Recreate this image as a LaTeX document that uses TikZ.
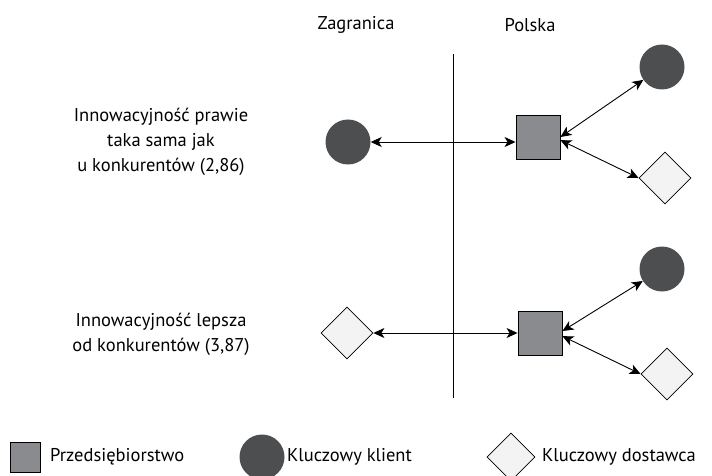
\documentclass[tikz,border=0pt]{standalone}
\usepackage{fontspec}
\setmainfont{PT Sans}
\usetikzlibrary{arrows.meta,shapes.geometric}

\definecolor{firma}{HTML}{8A8B8F}
\definecolor{klient}{HTML}{4D4E50}
\definecolor{dostawca}{HTML}{F2F3F2}

\begin{document}
\begin{tikzpicture}[x=1pt,y=-1pt,font=\fontsize{18.5}{25}\selectfont,
    firm/.style={draw,fill=firma,line width=.9pt,minimum size=44pt,inner sep=0pt},
    client/.style={circle,fill=klient,minimum size=45pt,inner sep=0pt},
    supplier/.style={diamond,draw,fill=dostawca,line width=.8pt,minimum size=52pt,inner sep=0pt},
    link/.style={{Stealth[length=11pt,width=10pt,inset=3pt]}-{Stealth[length=11pt,width=10pt,inset=3pt]},line width=.9pt}]
  \useasboundingbox (0,0) rectangle (712,476);
  % headings and border line
  \node (zagr) at (356,25) {Zagranica};
  \node (pol) at (530,25) {Polska};
  \coordinate (top) at (453,54);
  \coordinate (bot) at (453,398);
  \draw[line width=.8pt] (top) -- (bot);
  % first case
  \node[align=center] (txt1) at (161,142) {Innowacyjność prawie\\taka sama jak\\u konkurentów (2,86)};
  \node[client] (k0) at (348,142) {};
  \node[firm] (f1) at (538,137) {};
  \node[client] (k1) at (662,67) {};
  \node[supplier] (d1) at (665,178) {};
  \draw[link] (k0) -- (k0 -| f1.west);
  \draw[link] (f1.0) -- (k1);
  \draw[link] (f1.-8) -- (d1.west);
  % second case
  \node[align=center] (txt2) at (161,334) {Innowacyjność lepsza\\od konkurentów (3,87)};
  \node[supplier] (d0) at (347,333) {};
  \node[firm] (f2) at (540,333) {};
  \node[client] (k2) at (662,269) {};
  \node[supplier] (d2) at (667,374) {};
  \draw[link] (d0.east) -- (f2.west);
  \draw[link] (f2.5) -- (k2);
  \draw[link] (f2.-8) -- (d2.west);
  % legend
  \node[firm,minimum size=30pt] (lf) at (25.5,457) {};
  \node[anchor=west,inner sep=0pt] (lft) at (50,457) {Przedsiębiorstwo};
  \node[client] (lk) at (262,457) {};
  \node[anchor=west,inner sep=0pt] (lkt) at (287,457) {Kluczowy klient};
  \node[supplier,minimum size=48pt] (ld) at (511,457) {};
  \node[anchor=west,inner sep=0pt] (ldt) at (542,457) {Kluczowy dostawca};
\end{tikzpicture}
\end{document}
